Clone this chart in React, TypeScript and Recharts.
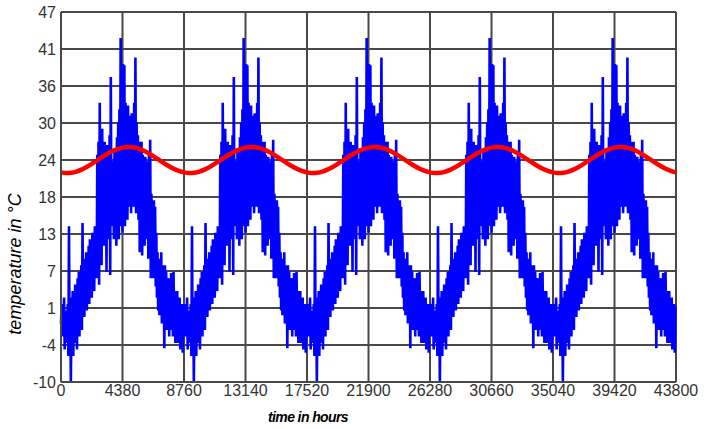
import { LineChart, Line, XAxis, YAxis, CartesianGrid } from 'recharts';

// x axis: hours over five years
const xTicks = [0, 4380, 8760, 13140, 17520, 21900, 26280, 30660, 35040, 39420, 43800];
const yTicks = [-10, -4.3, 1.4, 7.1, 12.8, 18.5, 24.2, 29.9, 35.6, 41.3, 47];
const yTickLabels = ['-10', '-4', '1', '7', '13', '18', '24', '30', '36', '41', '47'];

const HOURS_PER_YEAR = 8760;
const YEARS = [0, 1, 2, 3, 4];

// hourly temperature, one weather year (repeated each year), read as low/high pairs per 1% of year
const blueLow = [
  -1, -3, -2, -5, -4, -3, -6, -5, -10, -3,
  -6, -4, -2, -5, -1, -3, 0, -2, 1, 0,
  2, 1, 3, 2, 4, 3, 6, 4, 7, 6,
  10, 5, 12, 8, 14, 11, 13, 7, 15, 12,
  6.5, 14, 17, 12, 16, 11, 15, 12, 14, 16,
  13, 17, 14, 18, 15, 17, 19, 16, 18, 17,
  19, 16, 18, 15, 10, 13, 9.5, 14, 11, 15,
  12, 9, 14, 6, 10, 6, 8, 4.7, 3, 1,
  0.3, 2, -1, 1, -4.8, 0, -2, 1, -3, -2,
  -1, -3, -2, -4, -1, -4, -3, -5, -4, -5.5,
];
const blueHigh = [
  2, 1, 3, 0, 1, 2, 14, 3, 0, 4,
  2, 5, 4, 6, 7, 6, 8, 14.5, 9, 8,
  10, 9, 11, 12, 10, 13, 12, 14, 14, 25,
  27, 33, 24, 29, 25, 27, 23, 26.5, 25, 28,
  37, 24, 22.5, 26, 25, 27.7, 30, 32, 43, 35,
  39, 38.8, 33, 32, 32.6, 31, 30, 31.4, 29, 33,
  40, 30, 28, 27, 26.5, 27, 25, 22, 24.7, 23,
  24, 25, 27.3, 19, 18, 18, 17, 13, 10, 9,
  8.3, 10, 8, 7, 8, 7, 6, 5, 6, 6.8,
  5, 7, 4, 3, 4, 2, 3, 1, 2, 1.6,
];

// smooth red reference curve, 24 samples per year
const redValues = [
  22.29, 22.2, 22.25, 22.42, 22.72, 23.12, 23.59, 24.11, 24.63, 25.12, 25.55, 25.88,
  26.11, 26.2, 26.15, 25.98, 25.68, 25.28, 24.81, 24.29, 23.77, 23.28, 22.85, 22.52,
];

const blueData: { t: number; v: number }[] = [];
YEARS.forEach((y) => {
  const step = HOURS_PER_YEAR / blueLow.length;
  blueLow.forEach((lo, k) => {
    const t = y * HOURS_PER_YEAR + k * step;
    blueData.push({ t, v: lo });
    blueData.push({ t: t + step / 2, v: blueHigh[k] });
  });
});

const redData: { t: number; v: number }[] = [];
YEARS.forEach((y) => {
  const step = HOURS_PER_YEAR / redValues.length;
  redValues.forEach((v, k) => redData.push({ t: y * HOURS_PER_YEAR + k * step, v }));
});
redData.push({ t: 43800, v: redValues[0] });

const tickStyle = { fill: '#333', fontSize: 16, fontFamily: 'Liberation Sans, Arial, sans-serif' };

export default function App() {
  return (
    <div style={{ position: 'absolute', left: 0, top: 0, width: 708, height: 429, background: '#fff' }}>
      <LineChart width={708} height={429} margin={{ top: 12, right: 32, bottom: 0, left: 5 }}>
        <CartesianGrid stroke="#484848" strokeWidth={2} />
        <XAxis
          dataKey="t"
          type="number"
          domain={[0, 43800]}
          ticks={xTicks}
          interval={0}
          height={47}
          tick={tickStyle}
          tickLine={false}
          tickSize={0}
          tickMargin={3}
          axisLine={{ stroke: '#484848', strokeWidth: 2 }}
          allowDuplicatedCategory={false}
        />
        <YAxis
          type="number"
          domain={[-10, 47]}
          ticks={yTicks}
          interval={0}
          width={56}
          tick={tickStyle}
          tickLine={false}
          tickSize={0}
          tickMargin={5}
          axisLine={{ stroke: '#484848', strokeWidth: 2 }}
          tickFormatter={(v: number) => yTickLabels[yTicks.indexOf(v)] ?? String(v)}
        />
        <Line
          data={blueData}
          dataKey="v"
          type="linear"
          stroke="#0000ff"
          strokeWidth={2.6}
          dot={false}
          isAnimationActive={false}
        />
        <Line
          data={redData}
          dataKey="v"
          type="monotone"
          stroke="#ff0000"
          strokeWidth={4.5}
          dot={false}
          isAnimationActive={false}
        />
      </LineChart>
      <div
        style={{
          position: 'absolute',
          left: 15,
          top: 264,
          transform: 'translate(-50%, -50%) rotate(-90deg)',
          whiteSpace: 'nowrap',
          fontFamily: 'Liberation Sans, Arial, sans-serif',
          fontStyle: 'italic',
          fontSize: 18,
          color: '#000',
        }}
      >
        temperature in °C
      </div>
      <div
        style={{
          position: 'absolute',
          left: 308,
          top: 417,
          transform: 'translate(-50%, -50%)',
          whiteSpace: 'nowrap',
          fontFamily: 'Liberation Sans, Arial, sans-serif',
          fontStyle: 'italic',
          fontWeight: 'bold',
          fontSize: 14,
          letterSpacing: -0.6,
          color: '#000',
        }}
      >
        time in hours
      </div>
    </div>
  );
}
